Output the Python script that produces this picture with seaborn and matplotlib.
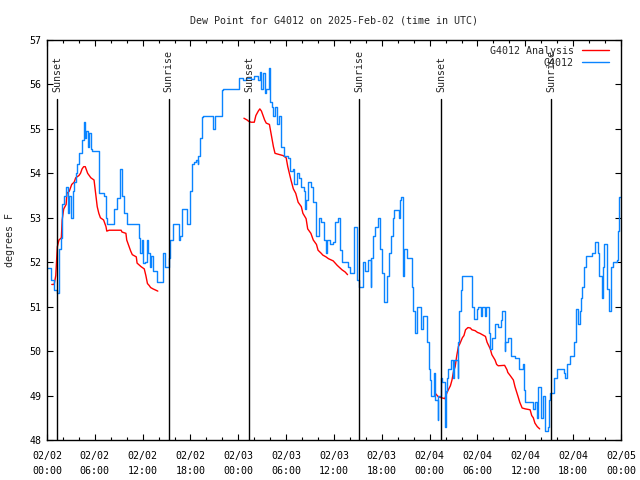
import numpy as np
import pandas as pd
import matplotlib
matplotlib.use('Agg')
import matplotlib.pyplot as plt
import matplotlib.dates as mdates
import seaborn as sns

# ----------- DATA (hours since 2025-02-02 00:00 UTC, dew point in F) -----------

obs_hours = [
    0.0, 0.5, 0.9, 1.3, 1.5, 1.8, 1.9, 2.1, 2.4, 2.6, 2.8, 3.0, 3.2, 3.4, 3.6, 3.8,
    4.0, 4.4, 4.6, 4.8, 4.9, 5.1, 5.3, 5.5, 5.6, 6.5, 7.1, 7.4, 7.5, 8.4, 8.8, 9.2,
    9.4, 9.7, 10.0, 11.5, 11.7, 11.9, 12.1, 12.3, 12.5, 12.7, 12.9, 13.1, 13.3, 13.8,
    14.6, 14.8, 15.3, 15.4, 15.8, 16.4, 16.5, 16.7, 16.9, 17.4, 17.5, 17.9, 18.2, 18.4,
    18.7, 18.9, 19.0, 19.2, 19.4, 19.6, 20.8, 21.1, 21.9, 22.1, 24.1, 24.6, 25.0, 25.6,
    26.0, 26.5, 26.7, 26.9, 27.1, 27.3, 27.5, 27.8, 28.0, 28.2, 28.4, 28.6, 28.9, 29.1,
    29.3, 29.7, 30.2, 30.5, 30.8, 31.0, 31.3, 31.6, 31.8, 32.2, 32.3, 32.5, 32.7, 33.1,
    33.4, 33.8, 34.1, 34.4, 34.7, 35.0, 35.1, 35.5, 35.9, 36.1, 36.5, 36.7, 37.0, 37.7,
    38.0, 38.5, 38.9, 39.1, 39.6, 39.9, 40.3, 40.6, 40.7, 40.9, 41.2, 41.5, 41.8, 42.0,
    42.3, 42.6, 42.9, 43.2, 43.4, 43.5, 44.1, 44.3, 44.4, 44.6, 44.8, 45.2, 45.8, 45.9,
    46.2, 46.4, 46.9, 47.2, 47.7, 47.9, 48.0, 48.2, 48.5, 48.7, 49.0, 49.1, 49.4, 49.6,
    49.9, 50.0, 50.2, 50.3, 50.7, 50.9, 51.1, 51.5, 51.6, 51.7, 51.9, 52.1, 53.2, 53.3,
    53.5, 53.9, 54.1, 54.4, 54.6, 54.9, 55.1, 55.4, 55.6, 55.8, 56.2, 56.6, 57.0, 57.1,
    57.4, 57.5, 57.8, 58.2, 58.7, 59.2, 59.7, 59.8, 60.0, 61.0, 61.2, 61.5, 61.6, 62.0,
    62.2, 62.5, 62.8, 63.0, 63.1, 63.6, 64.0, 64.8, 65.0, 65.2, 65.6, 66.1, 66.3, 66.4,
    66.6, 66.8, 67.0, 67.1, 67.4, 67.6, 68.3, 68.7, 69.1, 69.3, 69.6, 69.8, 69.9, 70.2,
    70.3, 70.5, 70.7, 71.0, 71.5, 71.6, 71.8, 72.0,
]
obs_dewpt = [
    51.88, 51.6, 51.37, 51.3, 52.3, 52.55, 53.3, 53.5, 53.7, 53.1, 53.5, 53.0, 53.6, 53.8, 54.0, 54.2,
    54.45, 54.75, 55.15, 54.8, 54.95, 54.6, 54.9, 54.55, 54.5, 53.55, 53.5, 53.0, 52.87, 53.2, 53.45, 54.1,
    53.5, 53.1, 52.87, 52.55, 52.2, 52.5, 51.98, 52.0, 52.5, 52.2, 51.9, 52.15, 51.8, 51.55,
    52.2, 51.9, 52.1, 52.5, 52.85, 52.85, 52.5, 52.6, 53.2, 53.2, 52.85, 53.6, 54.2, 54.25,
    54.3, 54.2, 54.4, 54.8, 55.27, 55.3, 55.0, 55.3, 55.87, 55.9, 56.15, 56.1, 56.15, 56.12,
    56.18, 56.1, 56.28, 55.9, 56.25, 55.8, 55.9, 56.37, 55.6, 55.5, 55.3, 55.5, 55.1, 55.3,
    54.6, 54.4, 54.35, 54.05, 54.1, 53.75, 54.0, 53.9, 53.7, 53.6, 53.2, 53.4, 53.8, 53.7,
    53.35, 52.6, 53.0, 52.9, 52.5, 52.2, 52.5, 52.4, 52.45, 52.9, 53.0, 52.28, 52.0, 51.9,
    51.75, 52.8, 51.6, 51.45, 52.0, 51.8, 52.05, 51.45, 52.1, 52.6, 52.8, 53.0, 52.3, 51.75,
    51.1, 51.7, 52.2, 52.6, 53.0, 53.17, 53.0, 53.4, 53.47, 51.7, 52.3, 52.1, 51.45, 50.9,
    50.4, 51.0, 50.5, 50.8, 50.2, 49.6, 49.35, 49.0, 49.5, 48.9, 48.45, 49.0, 49.4, 49.3,
    48.3, 49.1, 49.4, 49.6, 49.8, 49.4, 49.8, 49.4, 50.2, 50.9, 51.37, 51.7, 51.7, 51.0,
    50.72, 50.95, 51.0, 50.8, 51.0, 50.8, 51.0, 50.4, 50.05, 50.3, 50.6, 50.55, 50.7, 50.9,
    50.0, 50.2, 50.3, 49.9, 49.85, 49.6, 49.7, 49.13, 48.85, 48.7, 48.85, 48.5, 49.2, 48.5,
    49.0, 48.2, 48.3, 48.9, 49.05, 49.4, 49.6, 49.5, 49.4, 49.7, 49.9, 50.2, 50.7, 50.95,
    50.6, 50.9, 51.2, 51.45, 51.9, 52.15, 52.2, 52.45, 52.2, 51.7, 51.2, 51.9, 52.4, 52.3,
    51.4, 50.9, 51.9, 52.0, 52.05, 52.7, 53.47, 53.47,
]

# analysis: three separate runs
ana1_hours = [0.6, 0.9, 1.1, 1.3, 1.5, 1.8, 1.9, 2.1, 2.4, 2.5, 2.8, 3.1, 3.4, 3.6, 4.0, 4.2,
              4.4, 4.6, 4.8, 5.1, 5.3, 5.5, 5.9, 6.1, 6.3, 6.5, 6.7, 7.1, 7.4, 7.5, 7.8, 9.3,
              9.4, 9.9, 10.0, 10.3, 10.5, 10.7, 11.2, 11.3, 11.8, 12.2, 12.4, 12.6, 12.8, 13.0,
              13.3, 13.9]
ana1_dewpt = [51.5, 51.5, 51.7, 52.35, 52.5, 52.55, 52.95, 53.2, 53.3, 53.55, 53.6, 53.75, 53.8, 53.9, 53.95, 54.0,
              54.1, 54.15, 54.15, 54.0, 53.95, 53.9, 53.85, 53.55, 53.25, 53.1, 53.0, 52.95, 52.8, 52.7, 52.72, 52.72,
              52.68, 52.65, 52.5, 52.35, 52.25, 52.17, 52.12, 51.98, 51.9, 51.85, 51.7, 51.52, 51.48, 51.43,
              51.4, 51.35]
ana2_hours = [24.7, 25.1, 25.3, 25.6, 26.0, 26.2, 26.5, 26.7, 26.9, 27.1, 27.3, 27.5, 27.9, 28.1, 28.4, 28.6,
              29.6, 30.0, 30.2, 30.6, 30.9, 31.2, 31.5, 31.9, 32.1, 32.5, 32.7, 33.1, 33.4, 33.8, 34.0, 34.4,
              34.6, 35.0, 35.3, 35.9, 36.4, 37.0, 37.4, 37.7]
ana2_dewpt = [55.24, 55.2, 55.17, 55.15, 55.15, 55.3, 55.4, 55.45, 55.4, 55.3, 55.2, 55.13, 55.1, 54.9, 54.6, 54.45,
              54.4, 54.35, 54.15, 53.85, 53.65, 53.55, 53.35, 53.25, 53.1, 52.98, 52.75, 52.65, 52.5, 52.4, 52.27, 52.2,
              52.16, 52.12, 52.08, 52.03, 51.93, 51.83, 51.78, 51.72]
ana3_hours = [48.7, 49.1, 49.5, 49.9, 50.2, 50.6, 50.8, 51.0, 51.2, 51.4, 51.6, 51.8, 52.1, 52.3, 52.5, 52.8,
              53.1, 53.3, 53.7, 54.0, 54.3, 54.6, 55.0, 55.2, 55.6, 55.8, 56.2, 56.4, 56.6, 57.4, 57.7, 57.8,
              58.1, 58.5, 58.7, 59.1, 59.3, 59.6, 60.0, 60.6, 60.8, 61.0, 61.2, 61.5, 61.8]
ana3_dewpt = [49.05, 48.97, 48.95, 48.93, 49.08, 49.22, 49.35, 49.55, 49.65, 49.9, 50.1, 50.17, 50.3, 50.35, 50.48, 50.53,
              50.52, 50.48, 50.46, 50.42, 50.4, 50.37, 50.33, 50.2, 50.05, 49.92, 49.8, 49.7, 49.67, 49.68, 49.58, 49.52,
              49.45, 49.35, 49.2, 48.97, 48.85, 48.72, 48.7, 48.68, 48.55, 48.5, 48.38, 48.3, 48.25]

sun_hours = [1.3, 15.26, 25.38, 39.18, 49.47, 63.26]
sun_labels = ['Sunset', 'Sunrise', 'Sunset', 'Sunrise', 'Sunset', 'Sunrise']

tick_hours = [0, 6, 12, 18, 24, 30, 36, 42, 48, 54, 60, 66, 72]
tick_labels = ['02/02\n00:00', '02/02\n06:00', '02/02\n12:00', '02/02\n18:00',
               '02/03\n00:00', '02/03\n06:00', '02/03\n12:00', '02/03\n18:00',
               '02/04\n00:00', '02/04\n06:00', '02/04\n12:00', '02/04\n18:00',
               '02/05\n00:00']

# ----------- BUILD FRAMES -------------

base = pd.Timestamp('2025-02-02 00:00')


def to_time(hours):
    return base + pd.to_timedelta(hours, unit='h')


obs = pd.DataFrame({'time': to_time(obs_hours), 'dewpt': obs_dewpt})
ana = pd.concat([
    pd.DataFrame({'time': to_time(h), 'dewpt': v, 'seg': i})
    for i, (h, v) in enumerate([(ana1_hours, ana1_dewpt), (ana2_hours, ana2_dewpt), (ana3_hours, ana3_dewpt)])
])

# ----------- PLOT -------------

sns.set_style('ticks')
plt.rcParams['font.family'] = ['DejaVu Sans Mono']
FS = 7.2

fig = plt.figure(figsize=(6.4, 4.8), dpi=100)
ax = fig.add_axes([47 / 640, 40 / 480, 574 / 640, 400 / 480])

sns.lineplot(data=ana, x='time', y='dewpt', units='seg', estimator=None,
             color='#ff0000', lw=1.0, ax=ax)
sns.lineplot(data=obs, x='time', y='dewpt', estimator=None,
             color='#0a84ff', lw=1.0, drawstyle='steps-post', ax=ax)

for h, lab in zip(sun_hours, sun_labels):
    t = to_time(h)
    ax.axvline(t, ymin=0, ymax=(55.67 - 48) / 9, color='black', lw=1.0)
    ax.text(t, 55.83, lab, rotation=90, ha='center', va='bottom', fontsize=FS)

ax.set_xlim(to_time(0), to_time(72))
ax.set_ylim(48, 57)
ax.set_yticks(range(48, 58))
ax.set_xticks(to_time(tick_hours))
lbls = ax.set_xticklabels(tick_labels)
for l in lbls:
    l.set_linespacing(1.55)
ax.xaxis.set_minor_locator(mdates.HourLocator(interval=2))

ax.tick_params(which='both', direction='in', top=True, right=True, labelsize=FS, colors='black')
ax.tick_params(which='major', length=4.5, width=0.8)
ax.tick_params(which='minor', length=2.5, width=0.8)
ax.tick_params(axis='x', pad=8)
ax.tick_params(axis='y', pad=4)
for s in ax.spines.values():
    s.set_color('black')
    s.set_linewidth(1.0)

ax.set_xlabel('')
ax.set_ylabel('degrees F', fontsize=FS)
ax.yaxis.set_label_coords(-0.056, 0.5)
ax.set_title('Dew Point for G4012 on 2025-Feb-02 (time in UTC)', fontsize=FS, pad=12)

h_ana = plt.Line2D([], [], color='#ff0000', lw=1.0)
h_obs = plt.Line2D([], [], color='#0a84ff', lw=1.0)
ax.legend([h_ana, h_obs], ['G4012 Analysis', 'G4012'], loc='upper right',
          bbox_to_anchor=(0.979, 0.985), borderaxespad=0, borderpad=0, frameon=False,
          markerfirst=False, handlelength=2.7, handletextpad=0.8, labelspacing=0.2,
          fontsize=FS)

fig.savefig('out.png', dpi=100)
